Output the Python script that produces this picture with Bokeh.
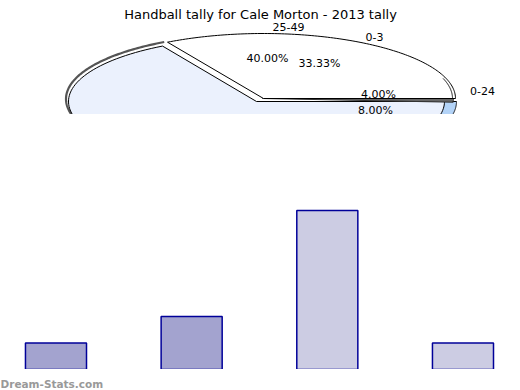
import numpy as np
from bokeh.plotting import figure
from bokeh.layouts import column
from bokeh.models import Range1d
from bokeh.core.properties import value
from bokeh.embed import file_html
from bokeh.resources import INLINE

# ---------------- data ----------------
title_text = "Handball tally for Cale Morton - 2013 tally"

# pie: category labels and the percentage labels printed on it
pie_categories = ["25-49", "0-3", "0-24"]
pie_percent_labels = ["40.00%", "33.33%", "4.00%", "8.00%"]
# slice extents as rendered (fractions of the full turn, start -> end)
slice_start = [-0.042, 0.3333, -0.009, 0.0]
slice_end = [0.0, 1.0, 0.0, 0.3333]

# bar chart values
bar_categories = ["0-3", "0-24", "25-49", "50+"]
bar_values = [1, 2, 6, 1]
bar_colors = ["#A3A3CF", "#A3A3CF", "#CCCCE3", "#CCCCE3"]

watermark = "Dream-Stats.com"

FONT = "DejaVu Sans"


def wedge(cx, cy, rx, ry, f0, f1, n=120):
    t = 2 * np.pi * np.linspace(f0, f1, n)
    xs = np.concatenate([[cx], cx + rx * np.cos(t)])
    ys = np.concatenate([[cy], cy - ry * np.sin(t)])
    return xs, ys


def arc(cx, cy, rx, ry, f0, f1, n=120):
    t = 2 * np.pi * np.linspace(f0, f1, n)
    return cx + rx * np.cos(t), cy - ry * np.sin(t)


def bare(fig):
    fig.grid.visible = False
    return fig


# ---------------- pie (top) ----------------
p1 = bare(figure(width=520, height=120, x_range=Range1d(0, 520), y_range=Range1d(120, 0),
                 output_backend="svg", toolbar_location=None, min_border=0,
                 x_axis_location=None, y_axis_location=None, outline_line_color=None))

# 3D rim on the left
ax, ay = arc(255, 98.5, 189.5, 65, 0.33, 0.62)
p1.line(ax, ay, line_color="#555555", line_width=2.2)

# side of the blue slice (right)
xs, ys = wedge(268, 101, 188, 66, slice_start[0], slice_end[0])
p1.patch(xs, ys, fill_color="#B3D3F7", line_color="#000000", line_width=1)

# large light-blue slice
xs, ys = wedge(256, 101, 188, 64, slice_start[1], slice_end[1])
p1.patch(xs, ys, fill_color="#EBF1FD", line_color="#000000", line_width=1)

# thin grey slice
xs, ys = wedge(262, 98, 191, 66, slice_start[2], slice_end[2])
p1.patch(xs, ys, fill_color="#666666", line_color="#333333", line_width=1)

# white slice
xs, ys = wedge(263, 98, 192, 65, slice_start[3], slice_end[3])
p1.patch(xs, ys, fill_color="#FFFFFF", line_color="#000000", line_width=1)

# 3D rim on the right of the white slice
ax, ay = arc(260, 98, 192, 65, 0.0, 0.05)
p1.line(ax, ay, line_color="#000000", line_width=1)

# the pie area is cut off below this line
p1.quad(left=0, right=520, top=113.5, bottom=120, fill_color="#FFFFFF", line_color=None)

# title
p1.text(x=[260], y=[14], text=[title_text], text_align="center", text_baseline="alphabetic",
        text_font=value(FONT), text_font_size="13px", text_color="#000000")

# category labels
p1.text(x=[288, 374, 482], y=[26, 36, 90], text=pie_categories, text_align="center",
        text_baseline="middle", text_font=value(FONT), text_font_size="11px", text_color="#000000")
# percentage labels
p1.text(x=[267, 319, 378, 375], y=[58, 63, 94, 109.5], text=pie_percent_labels, text_align="center",
        text_baseline="middle", text_font=value(FONT), text_font_size="11px", text_color="#000000")

# ---------------- bars (bottom) ----------------
p2 = bare(figure(width=520, height=249, x_range=Range1d(-0.409, 3.424), y_range=Range1d(0, 9.396),
                 output_backend="svg", toolbar_location=None, min_border=0,
                 x_axis_location=None, y_axis_location=None, outline_line_color=None))
p2.vbar(x=list(range(len(bar_values))), top=bar_values, bottom=-0.5, width=0.45,
        fill_color=bar_colors, line_color="#000099", line_width=1.5)

# ---------------- watermark ----------------
p3 = bare(figure(width=520, height=21, x_range=Range1d(0, 520), y_range=Range1d(390, 369),
                 output_backend="svg", toolbar_location=None, min_border=0,
                 x_axis_location=None, y_axis_location=None, outline_line_color=None))
p3.text(x=[0], y=[383], text=[watermark], text_align="left", text_baseline="alphabetic",
        text_font=value(FONT), text_font_size="10.5px", text_font_style="bold",
        text_color="#999999")

layout = column(p1, p2, p3, spacing=0)
open("out.html", "w").write(file_html(layout, INLINE))
